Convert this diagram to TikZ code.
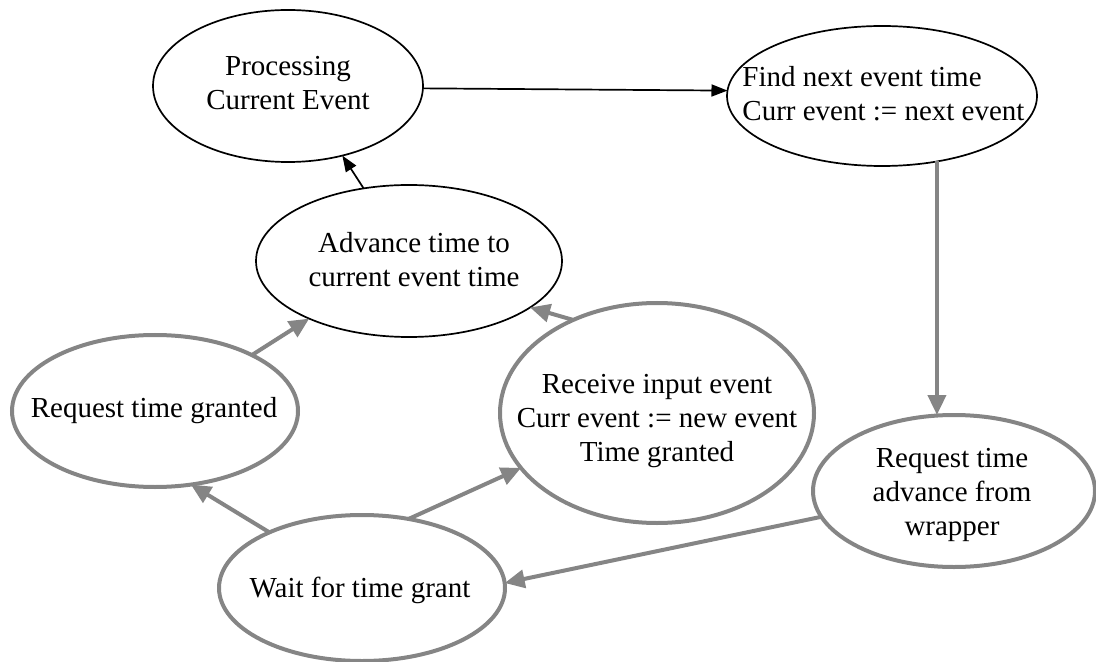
\documentclass[tikz,border=0pt]{standalone}
\usepackage{fontspec}
\setmainfont{Liberation Serif}
\usetikzlibrary{shapes.geometric,arrows.meta}
\definecolor{halftone}{gray}{0.52}
\begin{document}
\begin{tikzpicture}[x=0.5pt,y=-0.5pt,
  state/.style={ellipse, draw, inner sep=0pt, outer sep=0pt},
  blackstate/.style={state, line width=0.85pt},
  graystate/.style={state, draw=halftone, line width=2pt},
  stext/.style={font=\fontsize{14.5pt}{17pt}\selectfont, align=center, inner sep=0pt},
  blackarrow/.style={line width=0.85pt, -{Triangle[length=8pt,width=6pt]}},
  grayarrow/.style={draw=halftone, line width=2pt, -{Triangle[length=10pt,width=9pt]}},
]
\useasboundingbox (0,0) rectangle (1096,662);

% states (sizes given in pt: width = rx, height = ry at 0.5pt per unit)
\node[blackstate, minimum width=135pt, minimum height=76pt] (proc) at (288,86) {};
\node[blackstate, minimum width=155pt, minimum height=70pt] (find) at (882,96) {};
\node[blackstate, minimum width=153pt, minimum height=76pt] (adv) at (409,261) {};
\node[graystate, minimum width=143pt, minimum height=76pt] (grant) at (155,411) {};
\node[graystate, minimum width=157pt, minimum height=110pt] (recv) at (657,413) {};
\node[graystate, minimum width=141pt, minimum height=76pt] (reqadv) at (954,491) {};
\node[graystate, minimum width=143pt, minimum height=73pt] (wait) at (362,588) {};

% state texts
\node[stext] (procT) at (288,83) {Processing\\Current Event};
\node[stext, align=left, anchor=west] (findT) at (742,94) {Find next event time\\Curr event := next event};
\node[stext] (advT) at (414,260) {Advance time to\\current event time};
\node[stext] (grantT) at (154,411) {Request time granted};
\node[stext] (recvT) at (657,421) {Receive input event\\Curr event := new event\\Time granted};
\node[stext] (reqT) at (952,495) {Request time\\advance from\\wrapper};
\node[stext] (waitT) at (360,590) {Wait for time grant};

% transitions
\draw[blackarrow] (proc.-1) -- (find.178);
\draw[blackarrow] (adv.122) -- (proc.-52);
\draw[grayarrow] (find.-50) -- (find.-50 |- reqadv.north);
\draw[grayarrow] (reqadv.191) -- (wait.2);
\draw[grayarrow] (wait.149) -- (grant.-64);
\draw[grayarrow] (wait.56) -- (recv.202);
\draw[grayarrow] (grant.30) -- (adv.210);
\draw[grayarrow] (recv.132) -- (adv.-21);
\end{tikzpicture}
\end{document}
